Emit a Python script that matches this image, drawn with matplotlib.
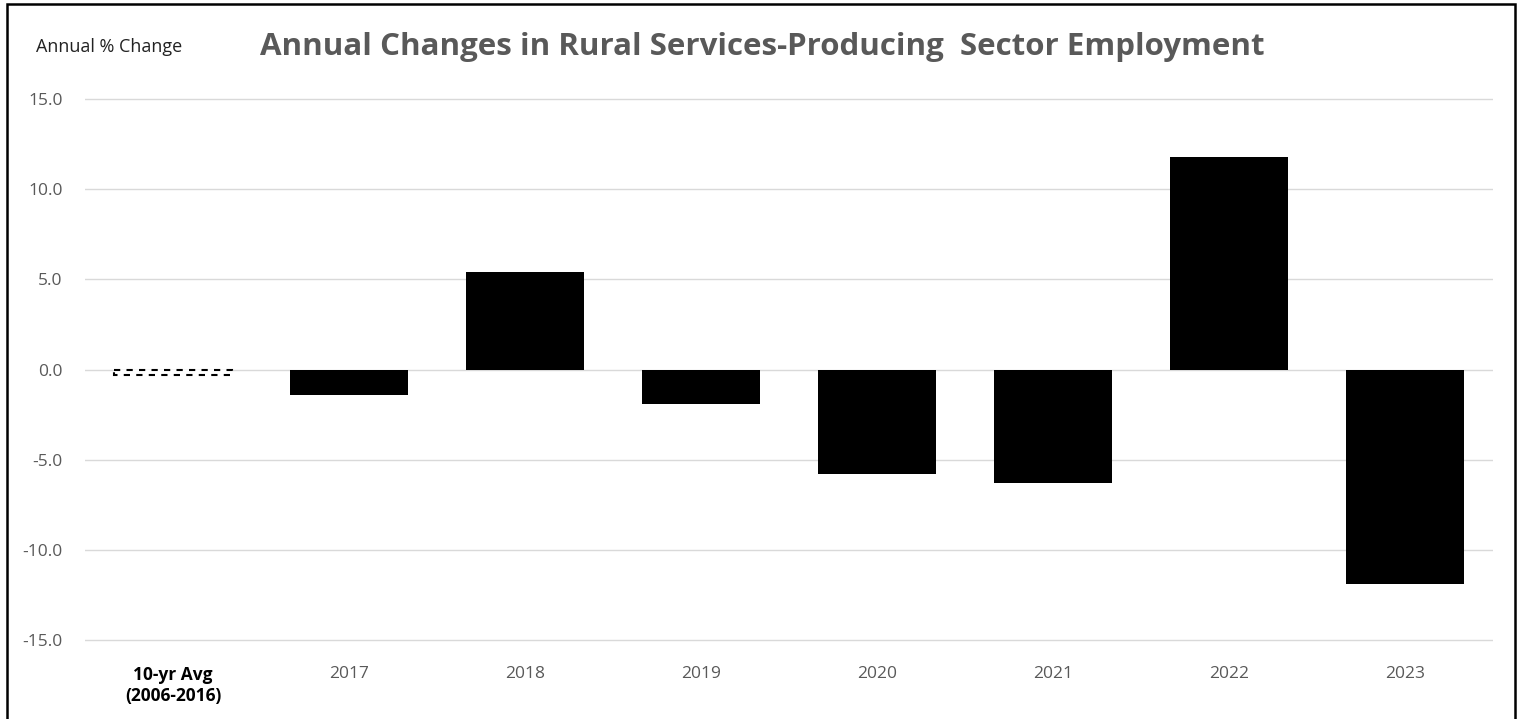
import matplotlib
matplotlib.use('Agg')
import matplotlib.pyplot as plt
from matplotlib.patches import Rectangle

plt.rcParams['font.family'] = ['Open Sans', 'DejaVu Sans']

# データ
categories = ['10-yr Avg\n(2006-2016)', '2017', '2018', '2019', '2020', '2021', '2022', '2023']
values = [-0.3, -1.4, 5.4, -1.9, -5.8, -6.3, 11.8, -11.9]
yticks = [-15.0, -10.0, -5.0, 0.0, 5.0, 10.0, 15.0]

fig = plt.figure(figsize=(15.19, 7.19), dpi=100)
ax = fig.add_axes([85/1519, 1-642/719, 1408/1519, 545/719])

x = list(range(len(categories)))
bars = ax.bar(x, values, width=0.67, color='black', zorder=3)
# 10年平均は白抜き・破線
bars[0].set_facecolor('white')
bars[0].set_edgecolor('black')
bars[0].set_linestyle((0, (3, 3)))
bars[0].set_linewidth(1.5)

ax.set_xlim(-0.5, len(categories) - 0.5)
ax.set_ylim(-15.1, 15.1)
ax.set_yticks(yticks)
ax.set_yticklabels(['%.1f' % v for v in yticks])
ax.set_xticks(x)
ax.set_xticklabels(categories, linespacing=1.25)
ax.grid(axis='y', color='#d9d9d9', linewidth=1, zorder=0)
for s in ax.spines.values():
    s.set_visible(False)
ax.tick_params(axis='both', length=0, labelsize=12.5, colors='#595959')
ax.tick_params(axis='x', pad=17)
ax.tick_params(axis='y', pad=16)
lbl = ax.get_xticklabels()[0]
lbl.set_fontweight('bold')
lbl.set_color('black')

fig.text(36/1519, 1-47/719, 'Annual % Change', fontsize=13, color='#222222', va='center')
fig.text(260/1519, 1-47/719, 'Annual Changes in Rural Services-Producing  Sector Employment',
         fontsize=22.5, fontweight='bold', color='#595959', va='center')

# 外枠（下辺は画像の外）
fig.patches.append(Rectangle((7/1519, -0.05), 1508/1519, 1.05-4/719, transform=fig.transFigure,
                             fill=False, edgecolor='black', linewidth=1.8))

fig.savefig('out.png', dpi=100)
